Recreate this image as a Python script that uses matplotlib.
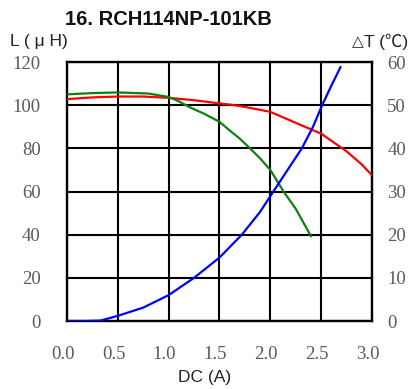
import matplotlib
matplotlib.use("Agg")
import matplotlib.pyplot as plt
import matplotlib.transforms as mtransforms

# Data
dc_red = [0.0, 0.25, 0.5, 0.75, 1.0, 1.25, 1.5, 1.6, 1.75, 2.0, 2.25, 2.5, 2.75, 2.9, 3.0]
L_red = [102.8, 103.6, 104.0, 104.0, 103.4, 102.3, 100.8, 100.3, 99.2, 96.9, 91.8, 86.8, 78.6, 72.5, 67.5]

dc_green = [0.0, 0.25, 0.5, 0.8, 1.0, 1.1, 1.2, 1.35, 1.5, 1.6, 1.7, 1.8, 1.9, 2.0, 2.13, 2.25, 2.4]
L_green = [105.0, 105.6, 105.9, 105.4, 103.8, 101.8, 99.2, 96.0, 92.3, 88.3, 84.5, 80.0, 75.3, 70.0, 60.0, 52.0, 39.3]

dc_blue = [0.0, 0.2, 0.33, 0.5, 0.75, 1.0, 1.25, 1.5, 1.72, 1.9, 2.03, 2.17, 2.31, 2.42, 2.51, 2.6, 2.69]
dT_blue = [0.0, 0.0, 0.1, 1.2, 3.1, 6.0, 10.0, 14.7, 20.0, 25.3, 30.0, 35.0, 40.0, 45.0, 50.0, 54.5, 58.8]

xticks = [0.0, 0.5, 1.0, 1.5, 2.0, 2.5, 3.0]
xticklabels = ["0.0", "0.5", "1.0", "1.5", "2.0", "2.5", "3.0"]
yticks_L = [0, 20, 40, 60, 80, 100, 120]
yticks_T = [0, 10, 20, 30, 40, 50, 60]

tick_color = "#5a5a5a"
tick_font = "Liberation Serif"
tick_size = 13.5

fig = plt.figure(figsize=(4.14, 3.89), dpi=100)
ax = fig.add_axes([0.1618, 0.1748, 0.7367, 0.6658])
ax.set_xlim(0, 3.0)
ax.set_ylim(0, 120)
ax.set_xticks(xticks)
ax.set_yticks(yticks_L)
ax.grid(True, color="black", linewidth=1.5)
for s in ax.spines.values():
    s.set_linewidth(1.7)
    s.set_color("black")
ax.tick_params(length=0, labelcolor=tick_color, labelsize=tick_size)
ax.set_xticklabels(xticklabels, family=tick_font)
ax.set_yticklabels([str(v) for v in yticks_L], family=tick_font)
ax.tick_params(axis="x", pad=18)
ax.tick_params(axis="y", pad=19)
shift = mtransforms.ScaledTranslation(-4 / 100, 0, fig.dpi_scale_trans)
for lbl in ax.get_xticklabels():
    lbl.set_transform(lbl.get_transform() + shift)

ax.plot(dc_red, L_red, color="#ff0000", linewidth=1.6, zorder=3)
ax.plot(dc_green, L_green, color="#108010", linewidth=1.6, zorder=3)

ax2 = ax.twinx()
ax2.set_ylim(0, 60)
ax2.set_yticks(yticks_T)
ax2.set_yticklabels([str(v) for v in yticks_T], family=tick_font)
ax2.tick_params(length=0, pad=11, labelcolor=tick_color, labelsize=tick_size)
for s in ax2.spines.values():
    s.set_visible(False)
ax2.plot(dc_blue, dT_blue, color="#0000ff", linewidth=1.6, zorder=3)

fig.text(0.158, 0.951, "16. RCH114NP-101KB", fontsize=14.5, fontweight="bold",
         family="Liberation Sans", va="center", ha="left", color="#111111")
fig.text(0.024, 0.893, "L ( μ H)", fontsize=12.5, family=["Liberation Sans", "DejaVu Sans"],
         va="center", ha="left", color="#222222")
t_lbl = fig.text(0.987, 0.893, "T (℃)", fontsize=12.5,
                 family=["Liberation Sans", "Noto Sans CJK JP", "DejaVu Sans"],
                 va="center", ha="right", color="#222222")
fig.canvas.draw()
bb = t_lbl.get_window_extent()
x_tri = (bb.x0 - 1) / fig.bbox.width
fig.text(x_tri, 0.893, "△", fontsize=11, family="DejaVu Sans",
         va="center", ha="right", color="#222222")
fig.text(0.495, 0.03, "DC (A)", fontsize=12.5, family="Liberation Sans",
         va="center", ha="center", color="#222222")

fig.savefig("out.png", dpi=100)
